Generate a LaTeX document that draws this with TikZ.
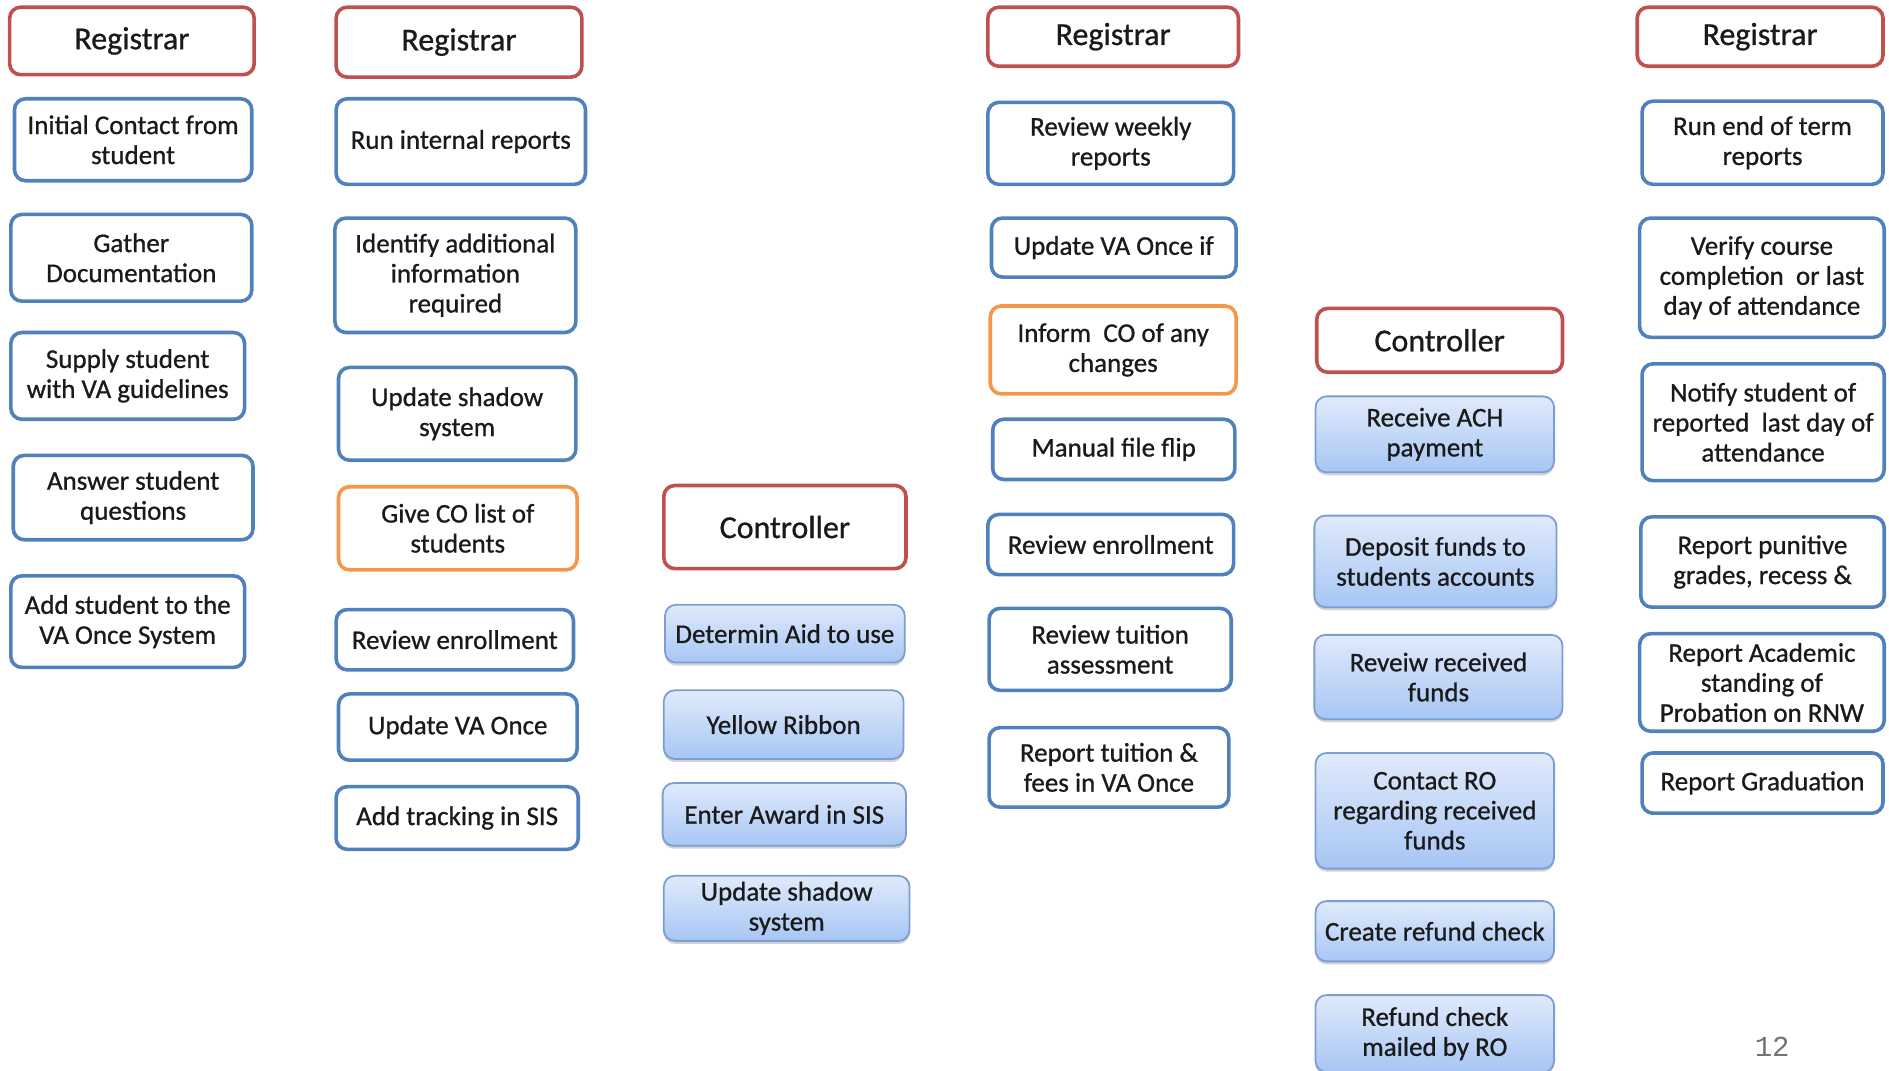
\documentclass[tikz,border=0pt]{standalone}
\usepackage{fontspec}
\setmainfont{Carlito}[FakeBold=0.8]
\newfontfamily\pgnum{Liberation Mono}
\usetikzlibrary{shadows}
\definecolor{hdred}{HTML}{C0504D}
\definecolor{stblue}{HTML}{4F81BD}
\definecolor{storange}{HTML}{F79646}
\definecolor{gtop}{HTML}{E0EAFB}
\definecolor{gbot}{HTML}{A7C6F4}
\definecolor{gborder}{HTML}{7C9ED3}
\definecolor{txt}{HTML}{1A1A1A}
\tikzset{
  base/.style={inner sep=0pt, rounded corners=11pt, align=center, text=txt,
    font=\fontsize{27}{30}\selectfont},
  head/.style={base, draw=hdred, line width=3.6pt, font=\fontsize{32}{36}\selectfont},
  stepbox/.style={base, draw=stblue, line width=3.6pt},
  orangebox/.style={base, draw=storange, line width=3.6pt},
  ctrlbox/.style={base, draw=gborder, line width=1.8pt, top color=gtop, bottom color=gbot,
    drop shadow={opacity=0.35, shadow xshift=0pt, shadow yshift=-3pt}},
  spanbox/.style args={#1/#2/#3/#4}{minimum width={(#3-#1)*1.2047pt}, minimum height={(#4-#2)*1.2047pt}},
}
% #1 style, #2 name, #3 x1, #4 y1, #5 x2, #6 y2, #7 text
\newcommand\bxnode[7]{\node[#1, spanbox=#3/#4/#5/#6] (#2) at ({(#3+#5)/2},{(#4+#6)/2}) {#7};}
\begin{document}
\begin{tikzpicture}[x=1.2047pt, y=-1.2047pt]
\useasboundingbox[fill=white] (0,0) rectangle (1568,889);
% column 1
\bxnode{head}{r1}{8}{6}{211}{62}{Registrar}
\bxnode{stepbox}{a1}{12}{82}{209}{150}{Initial Contact from\\student}
\bxnode{stepbox}{a2}{9}{178}{209}{250}{Gather\\Documentation}
\bxnode{stepbox}{a3}{9}{276}{203}{348}{Supply student\\with VA guidelines}
\bxnode{stepbox}{a4}{11}{378}{210}{448}{Answer student\\questions}
\bxnode{stepbox}{a5}{9}{478}{203}{554}{Add student to the\\VA Once System}
% column 2
\bxnode{head}{r2}{279}{6}{483}{64}{Registrar}
\bxnode{stepbox}{b1}{279}{82}{486}{153}{Run internal reports}
\bxnode{stepbox}{b2}{278}{181}{478}{276}{Identify additional\\information\\required}
\bxnode{stepbox}{b3}{281}{305}{478}{382}{Update shadow\\system}
\bxnode{orangebox}{b4}{281}{404}{479}{473}{Give CO list of\\students}
\bxnode{stepbox}{b5}{279}{506}{476}{556}{Review enrollment}
\bxnode{stepbox}{b6}{281}{576}{479}{631}{Update VA Once}
\bxnode{stepbox}{b7}{279}{653}{480}{705}{Add tracking in SIS}
% column 3
\bxnode{head}{c0}{551}{403}{752}{472}{Controller}
\bxnode{ctrlbox}{c1}{552}{502}{751}{550}{Determin Aid to use}
\bxnode{ctrlbox}{c2}{551}{573}{750}{630}{Yellow Ribbon}
\bxnode{ctrlbox}{c3}{550}{650}{752}{702}{Enter Award in SIS}
\bxnode{ctrlbox}{c4}{551}{727}{755}{781}{Update shadow\\system}
% column 4
\bxnode{head}{r4}{820}{6}{1028}{55}{Registrar}
\bxnode{stepbox}{d1}{820}{85}{1024}{153}{Review weekly\\reports}
\bxnode{stepbox}{d2}{823}{181}{1026}{230}{Update VA Once if}
\bxnode{orangebox}{d3}{822}{254}{1026}{327}{Inform\ \ CO of any\\changes}
\bxnode{stepbox}{d4}{824}{348}{1025}{398}{Manual file flip}
\bxnode{stepbox}{d5}{820}{427}{1024}{477}{Review enrollment}
\bxnode{stepbox}{d6}{821}{505}{1022}{573}{Review tuition\\assessment}
\bxnode{stepbox}{d7}{821}{604}{1020}{670}{Report tuition \&\\fees in VA Once}
% column 5
\bxnode{head}{e0}{1093}{256}{1297}{309}{Controller}
\bxnode{ctrlbox}{e1}{1092}{329}{1290}{392}{Receive ACH\\payment}
\bxnode{ctrlbox}{e2}{1091}{428}{1292}{504}{Deposit funds to\\students accounts}
\bxnode{ctrlbox}{e3}{1091}{527}{1297}{597}{Reveiw received\\funds}
\bxnode{ctrlbox}{e4}{1092}{625}{1290}{721}{Contact RO\\regarding received\\funds}
\bxnode{ctrlbox}{e5}{1092}{748}{1290}{798}{Create refund check}
\bxnode{ctrlbox}{e6}{1092}{826}{1290}{890}{Refund check\\mailed by RO}
% column 6
\bxnode{head}{r6}{1359}{6}{1563}{55}{Registrar}
\bxnode{stepbox}{f1}{1363}{84}{1563}{153}{Run end of term\\reports}
\bxnode{stepbox}{f2}{1361}{181}{1564}{280}{Verify course\\completion\ \ or last\\day of attendance}
\bxnode{stepbox}{f3}{1363}{302}{1564}{399}{Notify student of\\reported\ \ last day of\\attendance}
\bxnode{stepbox}{f4}{1362}{429}{1564}{504}{Report punitive\\grades, recess \&}
\bxnode{stepbox}{f5}{1361}{526}{1564}{607}{Report Academic\\standing of\\Probation on RNW}
\bxnode{stepbox}{f6}{1363}{625}{1563}{675}{Report Graduation}
% page number
\node[text=black!55, font=\pgnum\fontsize{29}{32}\selectfont] (pg) at (1471,869) {12};
\end{tikzpicture}
\end{document}
